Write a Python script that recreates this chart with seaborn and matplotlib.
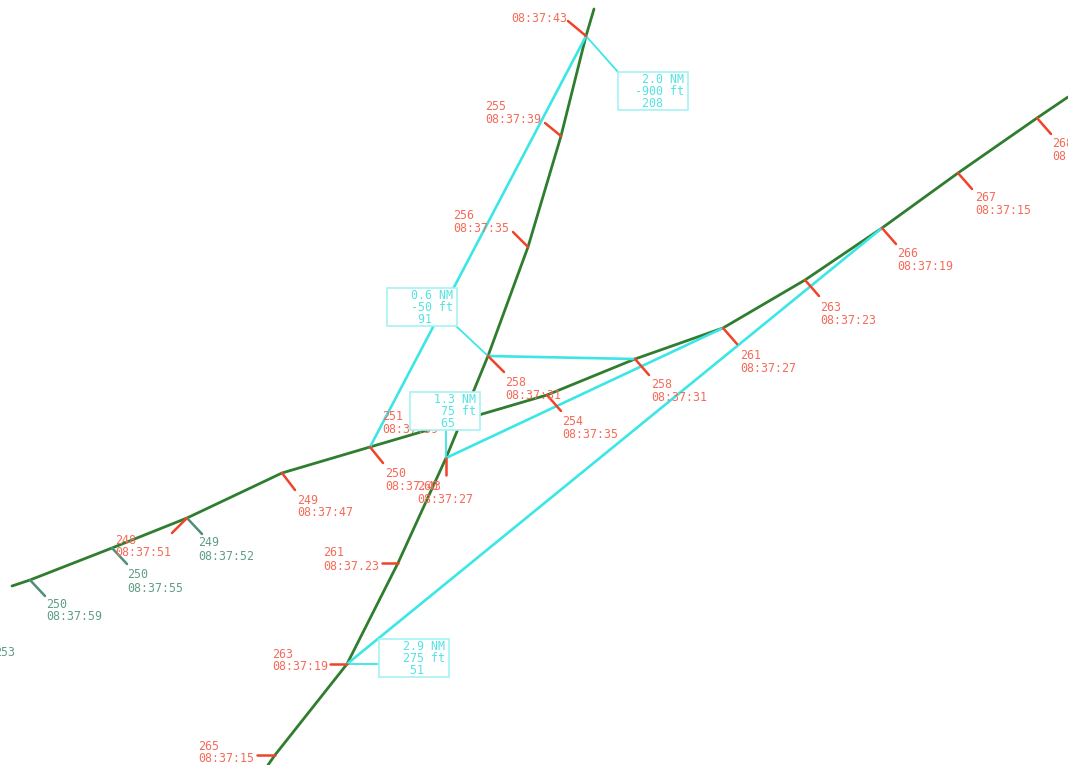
import numpy as np
import pandas as pd
import matplotlib
matplotlib.use("Agg")
import matplotlib.pyplot as plt
import seaborn as sns
from matplotlib.patches import Rectangle

# ---- track A (steep), screen coordinates ----
a_path_x = [268, 275, 347, 398, 446, 488, 528, 561, 586, 594]
a_path_y = [765, 755, 664, 563, 458, 356, 247, 136, 36, 9]
a_pt_x = [275, 347, 398, 446, 488, 528, 561, 586]
a_pt_y = [755, 664, 563, 458, 356, 247, 136, 36]
a_fl = ["265", "263", "261", "260", "258", "256", "255", ""]
a_time = ["08:37:15", "08:37:19", "08:37.23", "08:37:27",
          "08:37:31", "08:37:35", "08:37:39", "08:37:43"]

# ---- track B (shallow) ----
b_path_x = [12, 30, 112, 187, 282, 370, 455, 547, 635, 723, 805, 882, 958, 1037, 1068]
b_path_y = [586, 580, 548, 518, 473, 447, 422, 395, 359, 328, 280, 228, 173, 118, 97]
b_pt_x = [187, 282, 370, 455, 547, 635, 723, 805, 882, 958, 1037]
b_pt_y = [518, 473, 447, 422, 395, 359, 328, 280, 228, 173, 118]
b_fl = ["248", "249", "250", "251", "254", "258", "261", "263", "266", "267", "268"]
b_time = ["08:37:51", "08:37:47", "08:37:43", "08:37:39", "08:37:35", "08:37:31",
          "08:37:27", "08:37:23", "08:37:19", "08:37:15", "08:37:11"]

# ---- older plots (green labels) on track B ----
g_pt_x = [30, 112, 187]
g_pt_y = [580, 548, 518]
g_fl = ["250", "250", "249"]
g_time = ["08:37:59", "08:37:55", "08:37:52"]

# ---- separation lines and boxes ----
sep_a = [7, 4, 3, 1]          # index into track A points
sep_b = [2, 5, 6, 8]          # index into track B points
sep_nm = [2.0, 0.6, 1.3, 2.9]
sep_ft = [-900, -50, 75, 275]
sep_n = [208, 91, 65, 51]

# layout (offsets, label spots, box spots)
a_tick = [(-18, 0), (-17, 0), (-16, 0), (0, 17), (16, 16), (-15, -15), (-16, -13), (-18, -15)]
a_lab = [(198, 746), (272, 654), (323, 553), (417, 486), (505, 382), (453, 215), (485, 106), (511, 5)]
b_tick = [(-15, 15), (13, 17), (13, 16), (-14, -5)] + [(14, 16)] * 7
b_lab = [(115, 540), (297, 500), (385, 473), (382, 416), (562, 421), (651, 384),
         (740, 355), (820, 307), (897, 253), (975, 197), (1052, 143)]
g_lab = [(46, 604), (127, 575), (198, 543)]
box_xy = [(618, 72), (387, 288), (410, 392), (379, 639)]
lead_to = [(618, 72), (456, 326), (446, 430), (379, 664)]

RED_TXT = "#f66a58"
RED_TICK = "#f0442a"
GREEN = "#2f7d2f"
GREEN_TXT = "#5f9e84"
CYAN = "#3de6e6"
BOX_EDGE = "#a6f2f2"
BOX_TXT = "#55e2e2"
FONT = dict(family="DejaVu Sans Mono", fontsize=8.4)

sns.set_style("white")
fig = plt.figure(figsize=(10.68, 7.65), dpi=100)
ax = fig.add_axes([0, 0, 1, 1])

# tracks
tracks = pd.concat([
    pd.DataFrame({"x": a_path_x, "y": a_path_y, "seg": "A"}),
    pd.DataFrame({"x": b_path_x, "y": b_path_y, "seg": "B"}),
])
sns.lineplot(data=tracks, x="x", y="y", units="seg", estimator=None, sort=False,
             color=GREEN, lw=2.0, ax=ax, zorder=2)

# separation lines
rows = []
for k, (ia, ib) in enumerate(zip(sep_a, sep_b)):
    rows.append({"x": a_pt_x[ia], "y": a_pt_y[ia], "seg": f"s{k}"})
    rows.append({"x": b_pt_x[ib], "y": b_pt_y[ib], "seg": f"s{k}"})
sep_df = pd.DataFrame(rows)
sns.lineplot(data=sep_df, x="x", y="y", units="seg", estimator=None, sort=False,
             color=CYAN, lw=1.9, ax=ax, zorder=3)

# leaders + boxes
for k, ia in enumerate(sep_a):
    px, py = a_pt_x[ia], a_pt_y[ia]
    lx, ly = lead_to[k]
    ax.plot([px, lx], [py, ly], color=CYAN, lw=1.3, zorder=3)
    bx, by = box_xy[k]
    ax.add_patch(Rectangle((bx, by), 70, 38, facecolor="white", edgecolor=BOX_EDGE,
                           lw=1.2, zorder=6))
    lines = [f"{sep_nm[k]:4.1f} NM", f"{sep_ft[k]:4d} ft", f"{sep_n[k]:4d}"]
    for j, s in enumerate(lines):
        ax.text(bx + 17, by + 7 + j * 12.3, s, color=BOX_TXT, va="center", ha="left",
                zorder=7, **FONT)


def draw_points(px, py, fl, tm, ticks, labs, tick_col, txt_col):
    for x, y, f, t, (dx, dy), (lx, ly) in zip(px, py, fl, tm, ticks, labs):
        ax.plot([x, x + dx], [y, y + dy], color=tick_col, lw=1.8, zorder=4,
                solid_capstyle="round")
        if f:
            ax.text(lx, ly, f, color=txt_col, va="center", ha="left", zorder=5, **FONT)
        ax.text(lx, ly + 13, t, color=txt_col, va="center", ha="left", zorder=5, **FONT)


draw_points(g_pt_x, g_pt_y, g_fl, g_time, [(15, 16)] * 3, g_lab, "#4f8f74", GREEN_TXT)
draw_points(a_pt_x, a_pt_y, a_fl, a_time, a_tick, a_lab, RED_TICK, RED_TXT)
draw_points(b_pt_x, b_pt_y, b_fl, b_time, b_tick, b_lab, RED_TICK, RED_TXT)

# partially visible label at left edge
ax.text(-6, 652, "253", color=GREEN_TXT, va="center", ha="left", **FONT)

ax.set_xlim(0, 1068)
ax.set_ylim(765, 0)
ax.set_axis_off()
fig.savefig("out.png", dpi=100, facecolor="white")
